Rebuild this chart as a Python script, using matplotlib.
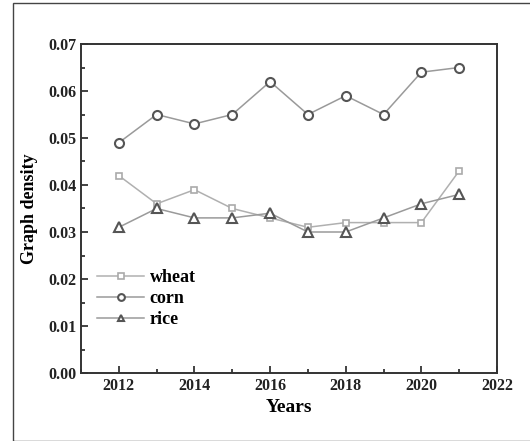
import matplotlib.pyplot as plt
from matplotlib.patches import Rectangle
from matplotlib.ticker import MultipleLocator

years = [2012, 2013, 2014, 2015, 2016, 2017, 2018, 2019, 2020, 2021]
wheat = [0.042, 0.036, 0.039, 0.035, 0.033, 0.031, 0.032, 0.032, 0.032, 0.043]
corn = [0.049, 0.055, 0.053, 0.055, 0.062, 0.055, 0.059, 0.055, 0.064, 0.065]
rice = [0.031, 0.035, 0.033, 0.033, 0.034, 0.030, 0.030, 0.033, 0.036, 0.038]

plt.rcParams['font.family'] = ['Liberation Serif', 'DejaVu Serif']
plt.rcParams['font.weight'] = 'bold'
plt.rcParams['axes.labelweight'] = 'bold'

fig = plt.figure(figsize=(5.30, 4.41), dpi=100)
ax = fig.add_axes([81 / 530, 1 - 373 / 441, 416 / 530, 329 / 441])

# outer frame around the picture
fig.patches.append(Rectangle((13 / 530, 0), 1, 1 - 3 / 441, transform=fig.transFigure,
                             fill=False, edgecolor='#444444', linewidth=1.0))

line_color = '#9a9a9a'
ax.plot(years, wheat, color='#b0b0b0', linewidth=1.1, marker='s', markersize=5,
        markerfacecolor='white', markeredgecolor='#aaaaaa', markeredgewidth=1.2, label='wheat')
ax.plot(years, corn, color=line_color, linewidth=1.1, marker='o', markersize=6.5,
        markerfacecolor='white', markeredgecolor='#555555', markeredgewidth=1.5, label='corn')
ax.plot(years, rice, color=line_color, linewidth=1.1, marker='^', markersize=6.5,
        markerfacecolor='white', markeredgecolor='#555555', markeredgewidth=1.5, label='rice')

ax.set_xlim(2011, 2022)
ax.set_ylim(0, 0.07)
ax.xaxis.set_major_locator(MultipleLocator(2))
ax.xaxis.set_minor_locator(MultipleLocator(1))
ax.yaxis.set_major_locator(MultipleLocator(0.01))
ax.yaxis.set_minor_locator(MultipleLocator(0.005))
ax.yaxis.set_major_formatter(plt.FuncFormatter(lambda v, p: f'{v:.2f}'))
ax.tick_params(which='both', direction='in', top=False, right=False, labelsize=11.5,
               width=1.2, colors='#222222')
ax.tick_params(which='major', length=5)
ax.tick_params(which='minor', length=3)
for s in ax.spines.values():
    s.set_linewidth(1.4)
    s.set_color('#333333')

ax.set_xlabel('Years', fontsize=14, labelpad=4)
ax.set_ylabel('Graph density', fontsize=13, labelpad=7)

ax.legend(loc='upper left', bbox_to_anchor=(0.0, 0.365), frameon=False, fontsize=13,
          handlelength=2.6, labelspacing=0.22, handletextpad=0.3, markerscale=0.75)

plt.savefig('out.png', dpi=100)
